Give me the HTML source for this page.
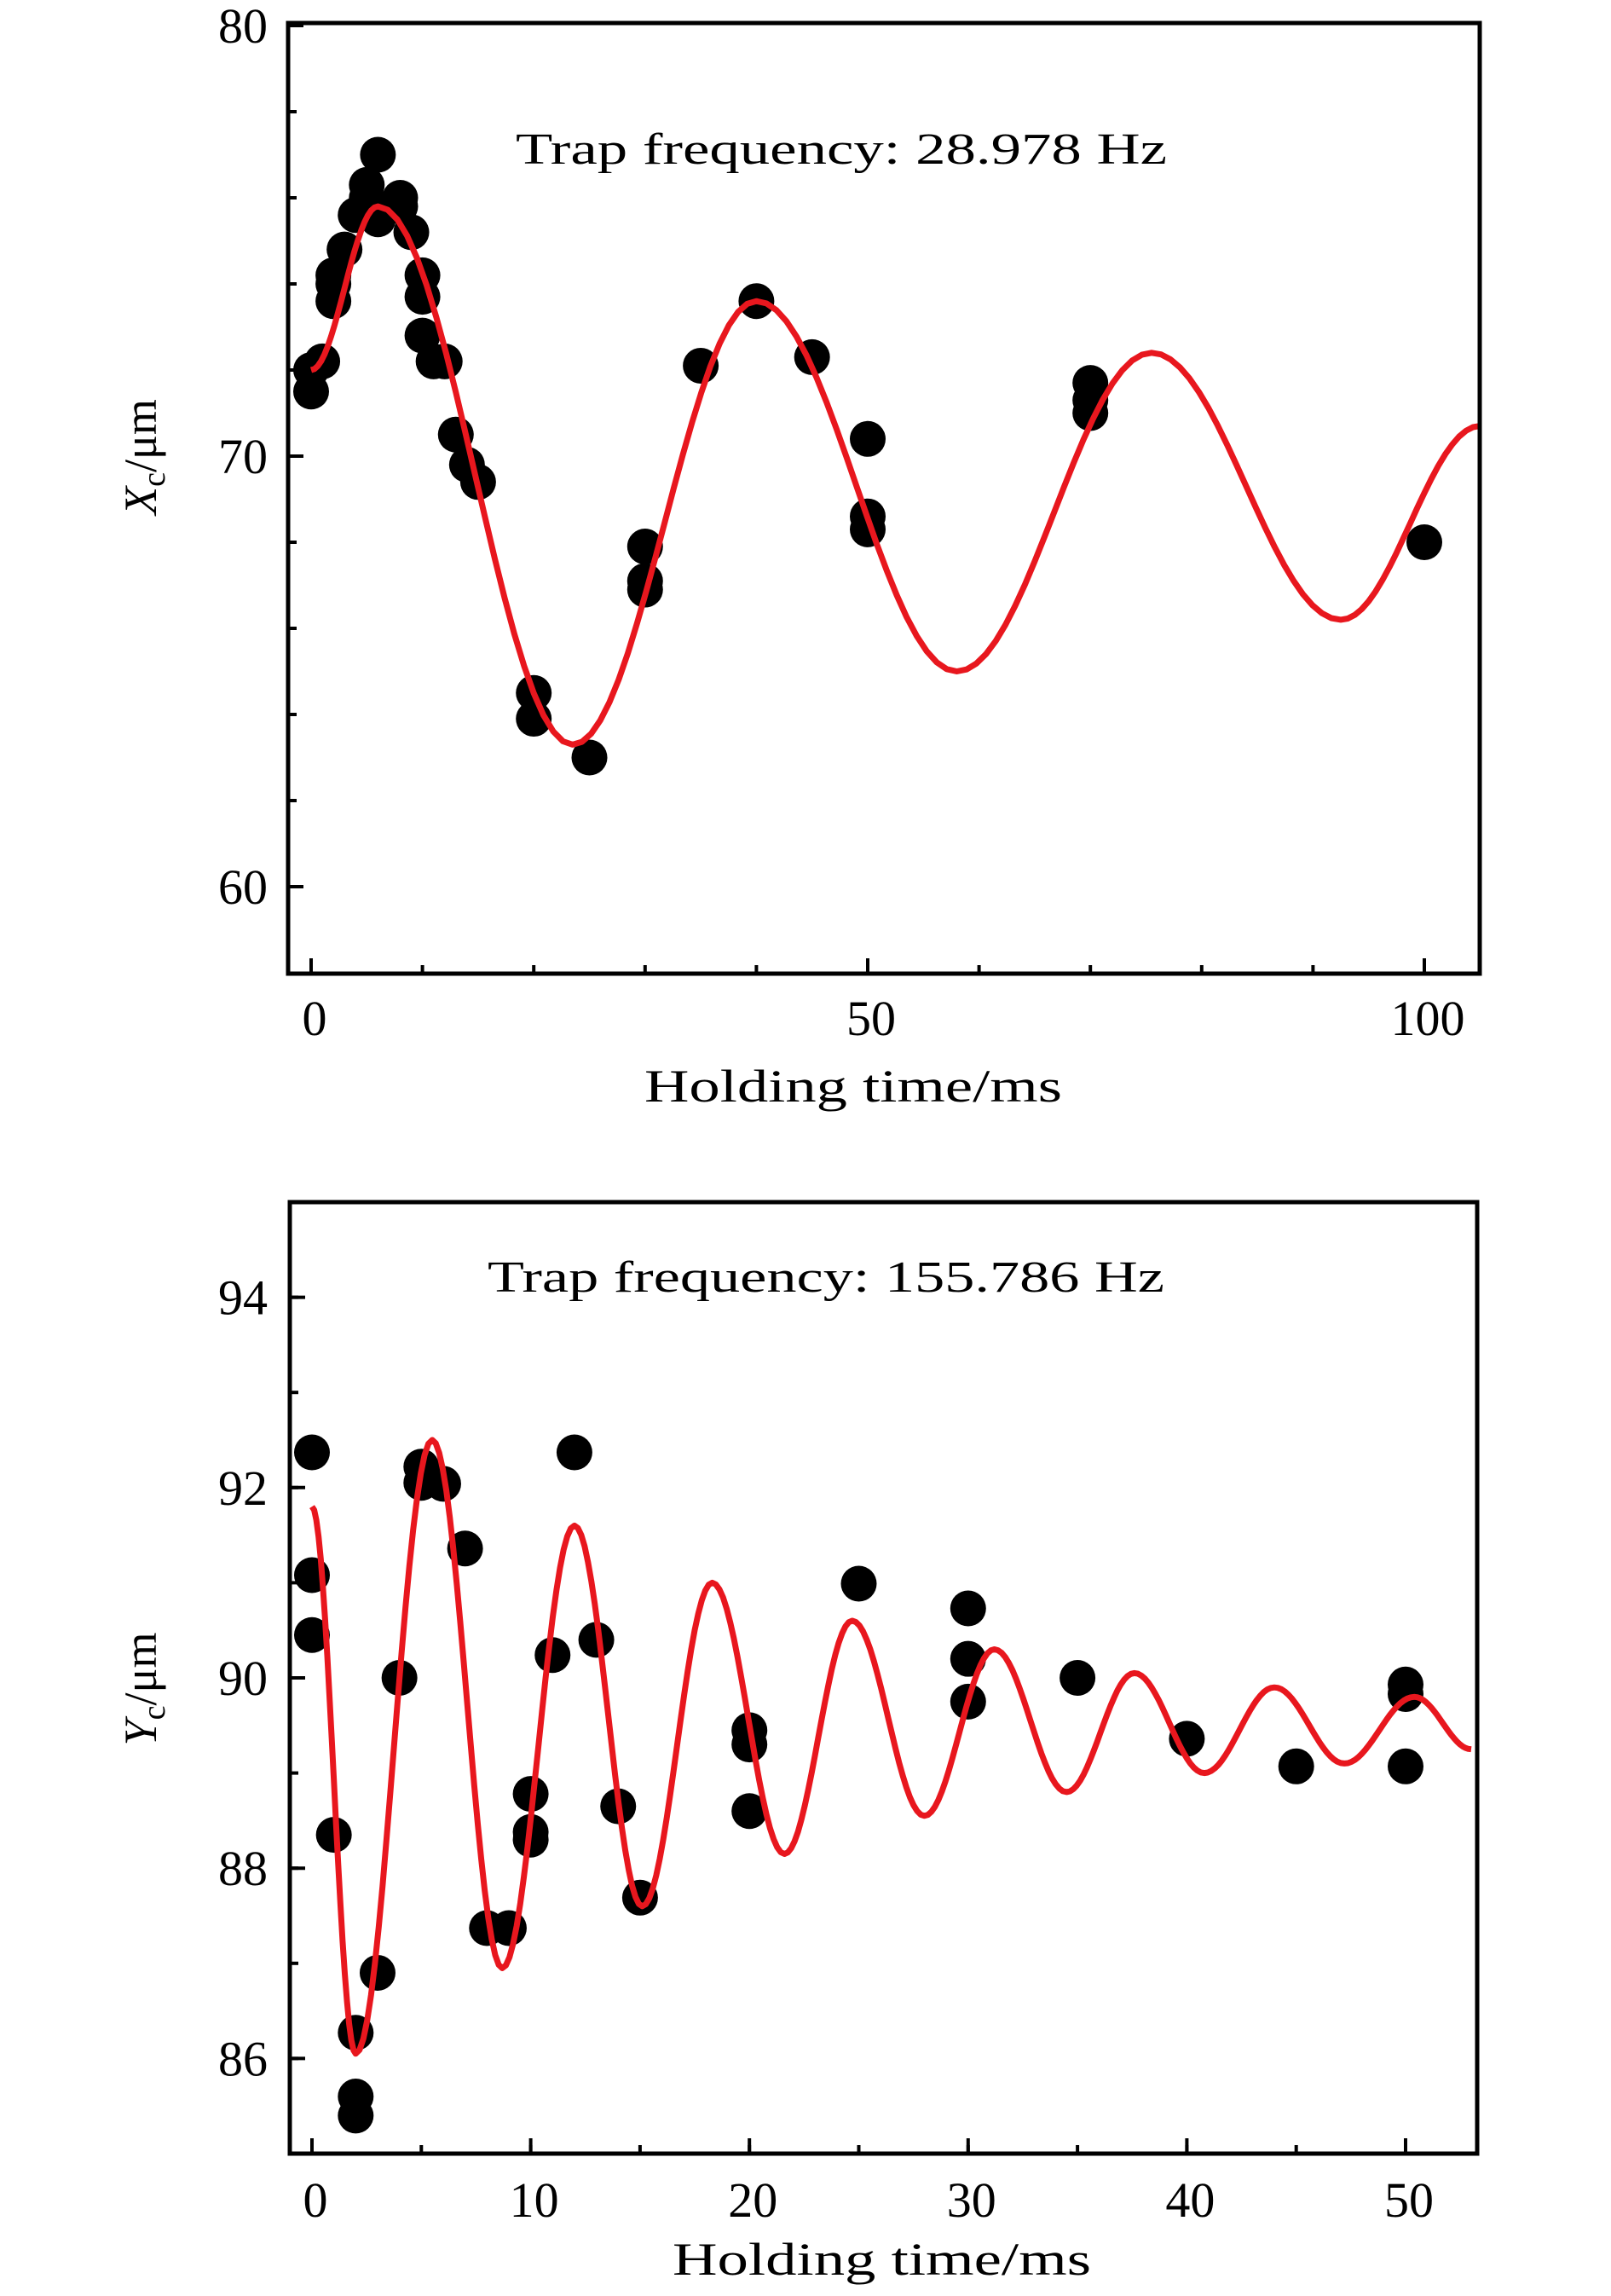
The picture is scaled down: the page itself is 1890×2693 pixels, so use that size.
<!DOCTYPE html>
<html><head><meta charset="utf-8"><style>
html,body{margin:0;padding:0;background:#fff;}
svg{display:block;font-family:"Liberation Serif","DejaVu Serif",serif;}
</style></head><body>
<svg id="chart" width="1890" height="2693" viewBox="0 0 1890 2693"></svg>
<script>
// ---- Top panel data ----
const topXs = [0,0,1,2,2,2,3,4,5,5,6,6,8,8,9,10,10,10,11,12,13,14,15,20,20,25,30,30,30,35,40,45,50,50,50,70,70,70,100];
const topYs = [71.5,72,72.2,73.6,74,74.2,74.8,75.6,76,76.3,77,75.5,76,75.8,75.2,74.2,73.7,72.8,72.2,72.2,70.5,69.8,69.4,64.5,63.9,63,67.9,67.1,66.9,72.1,73.6,72.3,70.4,68.6,68.3,71.7,71.3,71,68];
const topFitT = [0,6,23.5,40,58,75.5,92.5,105];
const topFitY = [72.0,75.8,63.3,73.6,65.0,72.4,66.2,70.7];
const topXTicks = [0,50,100];
const topYTicks = [60,70,80];
// ---- Bottom panel data ----
const botXs = [0,0,0,1,2,2,2,3,4,5,5,6,7,8,9,10,10,10,11,12,13,14,15,20,20,20,25,30,30,30,35,40,45,50,50,50];
const botYs = [92.37,91.08,90.45,88.35,86.27,85.6,85.4,86.9,90,92.22,92.05,92.04,91.36,87.37,87.37,88.78,88.38,88.3,90.24,92.37,90.4,88.65,87.69,89.45,89.3,88.6,90.99,90.73,90.2,89.75,90,89.36,89.07,89.93,89.83,89.07];
const botFitT = [0,2,5.5,8.7,12,15.1,18.3,21.6,24.7,28,31.2,34.5,37.6,40.8,44,47.2,50.4,53];
const botFitY = [91.8,86.05,92.5,86.95,91.6,87.6,91.0,88.15,90.6,88.55,90.3,88.8,90.05,89.0,89.9,89.1,89.8,89.25];
const botXTicks = [0,10,20,30,40,50];
const botYTicks = [86,88,90,92,94];

const NS = "http://www.w3.org/2000/svg";
const svg = document.getElementById('chart');
function mk(tag, attrs, parent){ const e=document.createElementNS(NS,tag); for(const k in attrs) e.setAttribute(k,attrs[k]); (parent||svg).appendChild(e); return e; }

function panel(cfg){
  const g = mk('g',{});
  
  
  const X = v => cfg.x0px + (v-cfg.x0v)*cfg.xs;
  const Y = v => cfg.y0px - (v-cfg.y0v)*cfg.ys;
  for(let v=cfg.xMinStart; v<=cfg.xMax; v+=cfg.xMinStep){
    const t = mk('line',{x1:X(v),x2:X(v),y1:cfg.B,y2:cfg.B-10,stroke:'#000','stroke-width':4},g);
     
  }
  for(let v=cfg.yMinStart; v<=cfg.yMax; v+=cfg.yMinStep){
    const t = mk('line',{x1:cfg.L,x2:cfg.L+10,y1:Y(v),y2:Y(v),stroke:'#000','stroke-width':4},g);
     
  }
  cfg.xt.forEach(v=>{
    const t = mk('line',{x1:X(v),x2:X(v),y1:cfg.B,y2:cfg.B-18,stroke:'#000','stroke-width':4},g);
     
    const l = mk('text',{x:X(v)+4,y:cfg.xLabY,'font-size':58,'text-anchor':'middle'},g);
    l.textContent = v;
     
  });
  cfg.yt.forEach(v=>{
    const t = mk('line',{x1:cfg.L,x2:cfg.L+18,y1:Y(v),y2:Y(v),stroke:'#000','stroke-width':4},g);
     
    const l = mk('text',{x:314,y:Y(v)+20,'font-size':58,'text-anchor':'end'},g);
    l.textContent = v;
     
  });
  let d='';
  for(let i=0;i<cfg.ft.length-1;i++){
    const t0=cfg.ft[i],t1=cfg.ft[i+1],y0=cfg.fy[i],y1=cfg.fy[i+1];
    const n=20;
    for(let k=(i===0?0:1);k<=n;k++){
      const u=k/n, t=t0+(t1-t0)*u, y=y0+(y1-y0)*(1-Math.cos(Math.PI*u))/2;
      d += (d?'L':'M') + X(t).toFixed(1)+','+Y(y).toFixed(1);
    }
  }
  cfg.xs_.forEach((xv,i)=>{
    const c = mk('circle',{cx:X(xv),cy:Y(cfg.ys_[i]),r:21,fill:'#000'},g);
     
  });
  const p = mk('path',{d:d,fill:'none',stroke:'#e8171e','stroke-width':7,'stroke-linejoin':'round'},g);
   
  const f = mk('rect',{x:cfg.L,y:cfg.T,width:cfg.R-cfg.L,height:cfg.B-cfg.T,fill:'none',stroke:'#000','stroke-width':5},g);
   
  return g;
}

panel({name:'top-panel',L:338,R:1736,T:27,B:1142,x0px:365,x0v:0,xs:13.06,y0px:535,y0v:70,ys:50.5,
  xMinStart:10,xMinStep:10,xMax:104,yMinStart:62,yMinStep:2,yMax:79,xt:topXTicks,yt:topYTicks,xLabY:1214,
  ft:topFitT,fy:topFitY,xs_:topXs,ys_:topYs});
panel({name:'bottom-panel',L:340,R:1733,T:1410,B:2526,x0px:366,x0v:0,xs:25.66,y0px:1968,y0v:90,ys:111.6,
  xMinStart:5,xMinStep:5,xMax:52,yMinStart:85,yMinStep:1,yMax:94.5,xt:botXTicks,yt:botYTicks,xLabY:2600,
  ft:botFitT,fy:botFitY,xs_:botXs,ys_:botYs});
</script>
<script>
(function(){
const NS="http://www.w3.org/2000/svg", svg=document.getElementById('chart');
function t(x,y,size,txt,extra){const e=document.createElementNS(NS,'text');e.setAttribute('x',x);e.setAttribute('y',y);e.setAttribute('font-size',size);if(extra)for(const k in extra)e.setAttribute(k,extra[k]);e.textContent=txt;svg.appendChild(e);return e;}
let a=t(605,192,52,'Trap frequency: 28.978 Hz',{textLength:764,lengthAdjust:'spacingAndGlyphs'});
 
let b=t(572,1515,52,'Trap frequency: 155.786 Hz',{textLength:794,lengthAdjust:'spacingAndGlyphs'});
 
let c=t(756,1292,54,'Holding time/ms',{textLength:490,lengthAdjust:'spacingAndGlyphs'});
 
let d=t(789,2668,54,'Holding time/ms',{textLength:491,lengthAdjust:'spacingAndGlyphs'});
 
function ylab(cy,letter,name){
  const e=document.createElementNS(NS,'text');
  e.setAttribute('transform','translate(183,'+cy+') rotate(-90)');
  e.setAttribute('text-anchor','middle');e.setAttribute('font-size',54);
  e.innerHTML='<tspan font-style="italic">'+letter+'</tspan><tspan font-size="38" dy="10">c</tspan><tspan dy="-10">/μm</tspan>';
  svg.appendChild(e);
   
}
ylab(536,'X','top-y-axis-title');
ylab(1981,'Y','bottom-y-axis-title');
})();
</script>
</body></html>
